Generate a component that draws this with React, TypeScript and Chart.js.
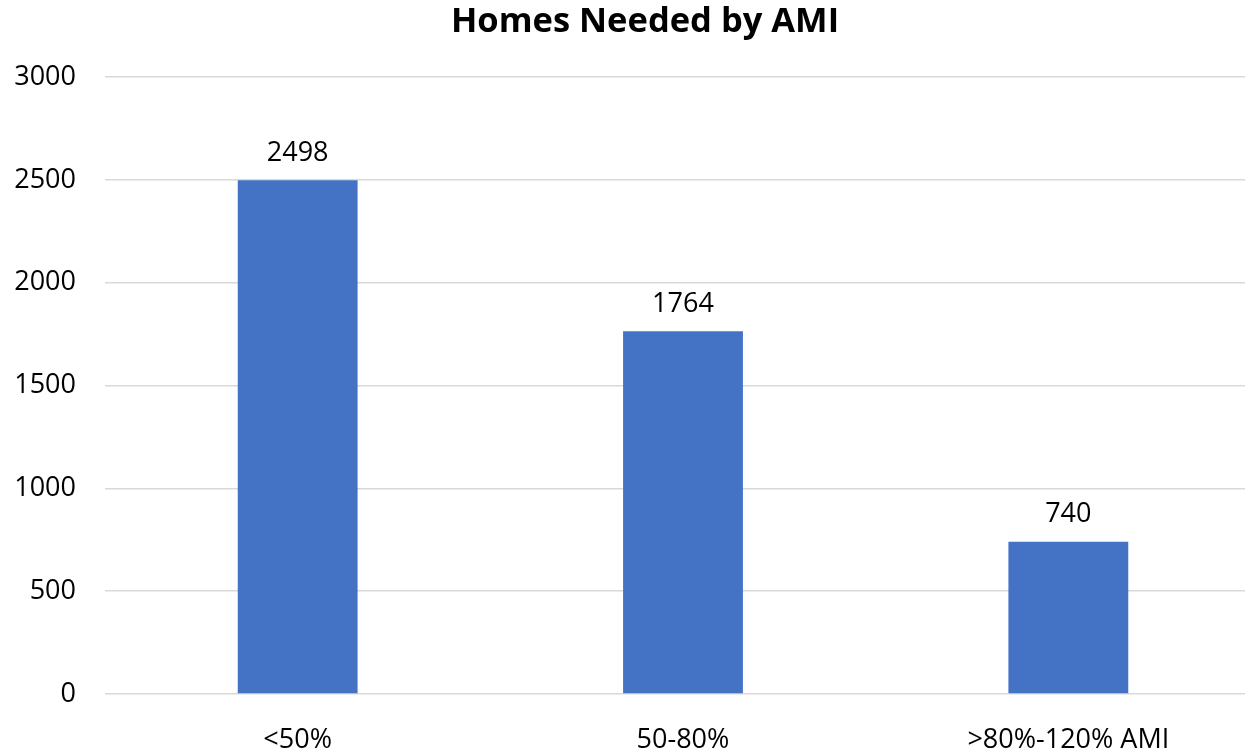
import React, { useEffect, useRef } from "react";
import { Chart, registerables } from "chart.js";

Chart.register(...registerables);

const categories = ["<50%", "50-80%", ">80%-120% AMI"];
const homesNeeded = [2498, 1764, 740];
const chartTitle = "Homes Needed by AMI";
const yMin = 0;
const yMax = 3000;
const yStep = 500;

const FONT = "'Open Sans', 'Liberation Sans', sans-serif";
const CANVAS_W = 1286;
const CANVAS_H = 748;

const valueLabelPlugin = {
  id: "valueLabels",
  afterDatasetsDraw(chart: any) {
    const ctx = chart.ctx;
    ctx.save();
    ctx.font = `27px ${FONT}`;
    ctx.fillStyle = "#000000";
    ctx.textAlign = "center";
    ctx.textBaseline = "middle";
    chart.data.datasets.forEach((ds: any, di: number) => {
      const meta = chart.getDatasetMeta(di);
      meta.data.forEach((bar: any, i: number) => {
        ctx.fillText(String(ds.data[i]), bar.x, bar.y - 27);
      });
    });
    ctx.restore();
  },
};

const centeredTitlePlugin = {
  id: "centeredTitle",
  afterDraw(chart: any) {
    const ctx = chart.ctx;
    ctx.save();
    ctx.font = `bold 34.5px ${FONT}`;
    ctx.fillStyle = "#000000";
    ctx.textAlign = "center";
    ctx.textBaseline = "alphabetic";
    ctx.fillText(chartTitle, chart.width / 2 + 2, 32);
    ctx.restore();
  },
};

export default function App() {
  const canvasRef = useRef<HTMLCanvasElement | null>(null);

  useEffect(() => {
    document.body.style.margin = "0";
    document.body.style.overflow = "hidden";
    const canvas = canvasRef.current;
    if (!canvas) return;
    const chart = new Chart(canvas, {
      type: "bar",
      data: {
        labels: categories,
        datasets: [
          {
            label: "Homes Needed",
            data: homesNeeded,
            backgroundColor: "#4472C4",
            borderWidth: 0,
            barPercentage: 0.311,
            categoryPercentage: 1,
          },
        ],
      },
      options: {
        animation: false,
        responsive: false,
        devicePixelRatio: 1,
        layout: { padding: { left: 0, right: 25, top: 77, bottom: 0 } },
        plugins: {
          legend: { display: false },
          tooltip: { enabled: false },
          title: { display: false },
        },
        scales: {
          x: {
            grid: { display: false },
            border: { display: false },
            ticks: {
              color: "#000000",
              font: { family: FONT, size: 27 },
              padding: 22,
              maxRotation: 0,
              autoSkip: false,
            },
            afterFit(scale: any) {
              scale.height = 54;
            },
          },
          y: {
            min: yMin,
            max: yMax,
            grid: { color: "#D9D9D9", lineWidth: 1.5, drawTicks: false },
            border: { display: false },
            ticks: {
              stepSize: yStep,
              color: "#000000",
              font: { family: FONT, size: 27 },
              padding: 29,
              callback: (value: any) => String(value),
            },
            afterFit(scale: any) {
              scale.width = 105;
            },
          },
        },
      },
      plugins: [valueLabelPlugin, centeredTitlePlugin],
    });
    return () => chart.destroy();
  }, []);

  return (
    <div style={{ position: "fixed", left: 0, top: 0, width: CANVAS_W, height: CANVAS_H, overflow: "hidden", background: "#ffffff" }}>
      <canvas ref={canvasRef} width={CANVAS_W} height={CANVAS_H} />
    </div>
  );
}
